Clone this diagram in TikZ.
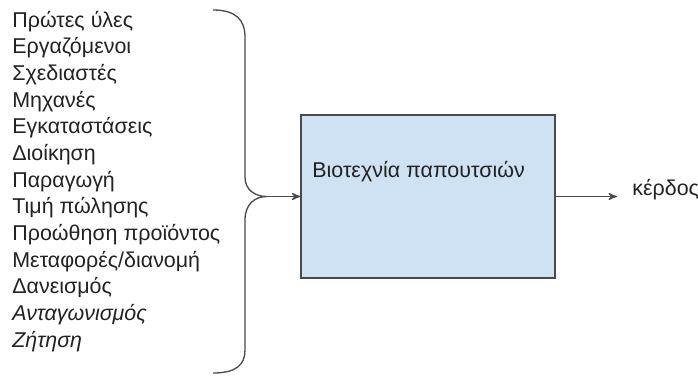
\documentclass[tikz,border=0pt]{standalone}
\usepackage{fontspec}
\setmainfont{Liberation Sans}
\usetikzlibrary{arrows,positioning}
\definecolor{colorbox}{HTML}{CFE2F3}
\definecolor{colorline}{HTML}{4A4A4A}
\definecolor{colortext}{HTML}{222222}
\tikzstyle{every node}=[text=colortext, font=\fontsize{12.2}{14}\selectfont]
\tikzstyle{factor}=[anchor=base west, inner sep=0pt]
\tikzstyle{unit}=[rectangle, draw=colorline, fill=colorbox, line width=0.8pt, minimum width=5.08cm, minimum height=3.26cm, inner sep=0pt]
\tikzstyle{link}=[draw=colorline, line width=0.75pt]

\begin{document}
\begin{tikzpicture}[x=0.02cm, y=-0.02cm, >=stealth']
	\useasboundingbox (0, 0) rectangle (698, 383);
	
	\node[factor] at (12, 27) (f1) {Πρώτες ύλες};
	\node[factor] at (12, 53.7) (f2) {Εργαζόμενοι};
	\node[factor] at (12, 80.3) (f3) {Σχεδιαστές};
	\node[factor] at (12, 107) (f4) {Μηχανές};
	\node[factor] at (12, 133.7) (f5) {Εγκαταστάσεις};
	\node[factor] at (12, 160.3) (f6) {Διοίκηση};
	\node[factor] at (12, 187) (f7) {Παραγωγή};
	\node[factor] at (12, 213.7) (f8) {Τιμή πώλησης};
	\node[factor] at (12, 240.3) (f9) {Προώθηση προϊόντος};
	\node[factor] at (12, 267) (f10) {Μεταφορές/διανομή};
	\node[factor] at (12, 293.7) (f11) {Δανεισμός};
	\node[factor] at (12, 320.3) (f12) {\itshape Ανταγωνισμός};
	\node[factor] at (12, 347) (f13) {\itshape Ζήτηση};
	\node[factor] at (37, 387) (more) {\itshape ...};
	
	\node[unit] at (428, 196.5) (shop) {};
	\node[factor] at (312, 177) (shoplabel) {Βιοτεχνία παπουτσιών};
	
	\coordinate (tip) at (267, 196.5);
	\coordinate (out) at (617, 196.5);
	\node[factor] at (632, 195) (gain) {κέρδος};
	
	% brace around the factors
	\path[link] (213, 10) .. controls (236, 10) and (245, 20) .. (245, 37) -- (245, 177)
		.. controls (245, 190) and (255, 196.5) .. (tip)
		.. controls (255, 196.5) and (245, 204) .. (245, 220) -- (245, 350)
		.. controls (245, 365) and (236, 373) .. (213, 373);
	
	\path[link, ->] (tip) -- (shop.west);
	\path[link, ->] (shop.east) -- (out);
	
\end{tikzpicture}
\end{document}
